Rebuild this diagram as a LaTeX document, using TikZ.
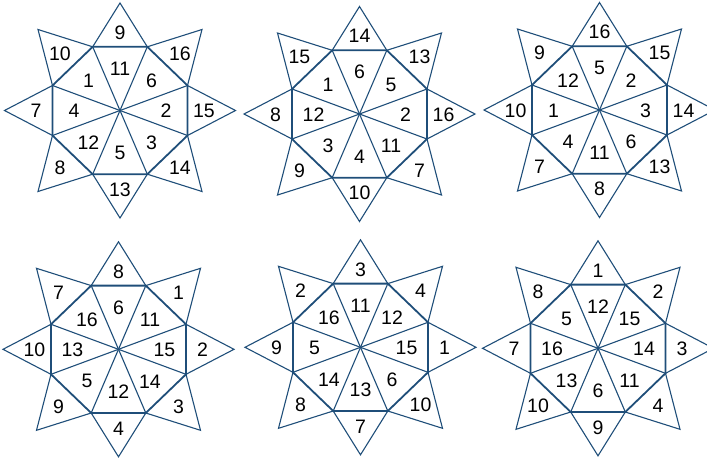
\documentclass[tikz,border=0pt]{standalone}
\usepackage{fontspec}
\setmainfont{Liberation Sans}
\definecolor{starblue}{RGB}{31,78,121}
\tikzset{
  thinedge/.style={draw=starblue, line width=1.1pt, line join=miter},
  octedge/.style={draw=starblue, line width=1.8pt, line join=miter},
  numlabel/.style={font=\fontsize{19.5}{22}\selectfont, text=black, inner sep=0pt}
}
\newcommand\octastar[4]{%
\begin{scope}[shift={#2}]
  \coordinate (#1-c) at (0,0);
  % octagon vertices (y grows downward)
  \coordinate (#1-v1) at (67.5,-25);
  \coordinate (#1-v2) at (27.3,-63.7);
  \coordinate (#1-v3) at (-27.3,-63.7);
  \coordinate (#1-v4) at (-67.5,-25);
  \coordinate (#1-v5) at (-67.5,25);
  \coordinate (#1-v6) at (-27.3,63.7);
  \coordinate (#1-v7) at (27.3,63.7);
  \coordinate (#1-v8) at (67.5,25);
  % star tips: E, NE, N, NW, W, SW, S, SE
  \coordinate (#1-t1) at (115.5,0);
  \coordinate (#1-t2) at (82,-81);
  \coordinate (#1-t3) at (0,-107.5);
  \coordinate (#1-t4) at (-82,-81);
  \coordinate (#1-t5) at (-115.5,0);
  \coordinate (#1-t6) at (-82,81);
  \coordinate (#1-t7) at (0,107.5);
  \coordinate (#1-t8) at (82,81);
  % label spots, inner
  \coordinate (#1-i1) at (46,0.5);
  \coordinate (#1-i2) at (31.5,-29.5);
  \coordinate (#1-i3) at (0,-42);
  \coordinate (#1-i4) at (-31.5,-29.5);
  \coordinate (#1-i5) at (-46,0.5);
  \coordinate (#1-i6) at (-31.5,32);
  \coordinate (#1-i7) at (0,42.5);
  \coordinate (#1-i8) at (31.5,32);
  % label spots, outer
  \coordinate (#1-o1) at (84,0.5);
  \coordinate (#1-o2) at (60,-57);
  \coordinate (#1-o3) at (0,-78);
  \coordinate (#1-o4) at (-60,-57);
  \coordinate (#1-o5) at (-84,0.5);
  \coordinate (#1-o6) at (-60,57);
  \coordinate (#1-o7) at (0,79);
  \coordinate (#1-o8) at (60,57);
  % spokes
  \foreach \i in {1,...,8} \draw[thinedge] (#1-c) -- (#1-v\i);
  % outer triangles
  \draw[thinedge] (#1-v8) -- (#1-t1) -- (#1-v1) -- (#1-t2) -- (#1-v2) -- (#1-t3)
     -- (#1-v3) -- (#1-t4) -- (#1-v4) -- (#1-t5) -- (#1-v5) -- (#1-t6)
     -- (#1-v6) -- (#1-t7) -- (#1-v7) -- (#1-t8) -- cycle;
  % octagon
  \draw[octedge] (#1-v1) -- (#1-v2) -- (#1-v3) -- (#1-v4) -- (#1-v5)
     -- (#1-v6) -- (#1-v7) -- (#1-v8) -- cycle;
  % numbers
  \foreach \lab [count=\k] in {#3} \node[numlabel] (#1-in\k) at (#1-i\k) {\lab};
  \foreach \lab [count=\k] in {#4} \node[numlabel] (#1-out\k) at (#1-o\k) {\lab};
\end{scope}}
\begin{document}
\begin{tikzpicture}[x=1pt,y=-1pt]
  \useasboundingbox (0,0) rectangle (707,461);
  \octastar{s1}{(120,110.5)}{2,6,11,1,4,12,5,3}{15,16,9,10,7,8,13,14}
  \octastar{s2}{(359.5,114)}{2,5,6,1,12,3,4,11}{16,13,14,15,8,9,10,7}
  \octastar{s3}{(599.5,110)}{3,2,5,12,1,4,11,6}{14,15,16,9,10,7,8,13}
  \octastar{s4}{(118.5,349.3)}{15,11,6,16,13,5,12,14}{2,1,8,7,10,9,4,3}
  \octastar{s5}{(360.5,347.3)}{15,12,11,16,5,14,13,6}{1,4,3,2,9,8,7,10}
  \octastar{s6}{(598,348.3)}{14,15,12,5,16,13,6,11}{3,2,1,8,7,10,9,4}
\end{tikzpicture}
\end{document}
